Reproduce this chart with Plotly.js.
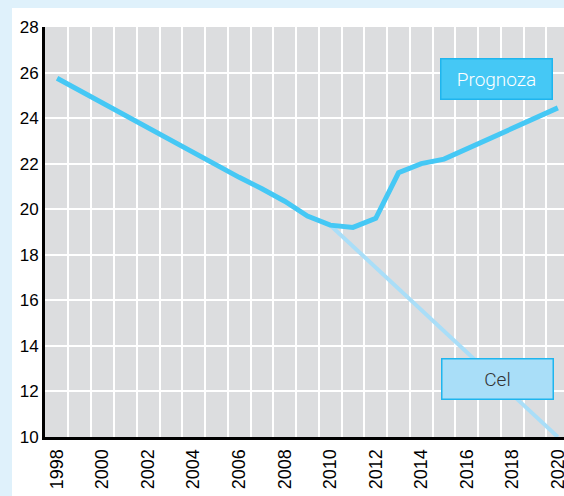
<!DOCTYPE html>
<html>
<head>
<meta charset="utf-8">
<script src="https://cdn.plot.ly/plotly-3.0.1.min.js"></script>
<style>
html, body { margin:0; padding:0; width:564px; height:496px; background:#dff1fb; overflow:hidden; }
#chart { position:absolute; left:12px; top:8px; width:552px; height:488px; background:#ffffff; }
</style>
</head>
<body>
<div id="chart"></div>
<script>
const years = [1998,1999,2000,2001,2002,2003,2004,2005,2006,2007,2008,2009,2010,2011,2012,2013,2014,2015,2016,2017,2018,2019,2020];
const prognoza = [25.75,25.2,24.65,24.1,23.55,23.0,22.45,21.95,21.4,20.9,20.35,19.7,19.3,19.2,19.6,21.6,22.0,22.2,22.65,23.1,23.55,24.0,24.45];
const celYears = [2010, 2020];
const celValues = [19.3, 10.0];
const xTickVals = [1998,2000,2002,2004,2006,2008,2010,2012,2014,2016,2018,2020];
const xTickText = ["1998","2000","2002","2004","2006","2008","2010","2012","2014","2016","2018","2020"];
const yTickVals = [10,12,14,16,18,20,22,24,26,28];
const labels = {prognoza: "Prognoza", cel: "Cel"};

const traces = [
  {x: celYears, y: celValues, mode: 'lines', line: {color: '#a9def8', width: 4}, hoverinfo: 'skip'},
  {x: years, y: prognoza, mode: 'lines', line: {color: '#45c8f5', width: 5}, hoverinfo: 'skip'}
];

const layout = {
  width: 552, height: 488,
  margin: {l: 33, r: 0, t: 19, b: 59, pad: 0},
  paper_bgcolor: '#ffffff',
  plot_bgcolor: '#dcdddf',
  showlegend: false,
  font: {family: 'Liberation Sans, Arial, sans-serif', color: '#000'},
  xaxis: {
    range: [1997.47, 2020.27],
    tickmode: 'array', tickvals: xTickVals, ticktext: xTickText,
    tickangle: -90,
    tickfont: {size: 18, color: '#000'},
    ticklabeloverflow: 'allow',
    showgrid: false,
    minor: {tickmode: 'linear', tick0: 1998.5, dtick: 1, showgrid: true, gridcolor: '#ffffff', gridwidth: 2, ticks: ''},
    showline: true, linecolor: '#000', linewidth: 3,
    ticks: '', zeroline: false,
    ticklabelstandoff: 2
  },
  yaxis: {
    range: [10, 28],
    tickmode: 'array', tickvals: yTickVals,
    tickfont: {size: 17, color: '#000'},
    showgrid: true, gridcolor: '#ffffff', gridwidth: 2,
    showline: true, linecolor: '#000', linewidth: 3,
    ticks: '', zeroline: false,
    ticklabelstandoff: 0
  },
  annotations: [
    {x: 2017.3, y: 25.72, xref: 'x', yref: 'y', text: labels.prognoza, showarrow: false,
     width: 108, height: 37, bgcolor: '#45c8f5', bordercolor: '#1fb5ee', borderwidth: 1.5,
     font: {family: 'Roboto', size: 19, color: '#ffffff', weight: 300}},
    {x: 2017.37, y: 12.55, xref: 'x', yref: 'y', text: labels.cel, showarrow: false,
     width: 108, height: 37, bgcolor: '#a9def8', bordercolor: '#1fb5ee', borderwidth: 1.5,
     font: {family: 'Roboto', size: 19, color: '#333333', weight: 300}}
  ]
};

Plotly.newPlot('chart', traces, layout, {staticPlot: true, displayModeBar: false});
</script>
</body>
</html>
